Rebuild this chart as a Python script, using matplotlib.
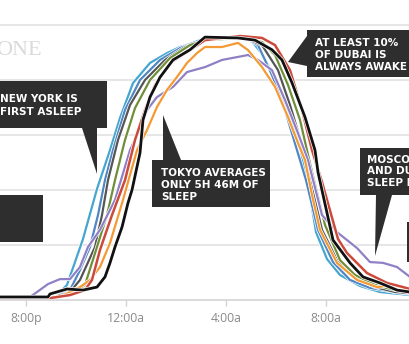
import matplotlib
matplotlib.use("Agg")
import matplotlib.pyplot as plt
import matplotlib.patches as mpatches
import matplotlib.patheffects as pe
from matplotlib.transforms import Affine2D

# hours after 8:00pm, share of people asleep (%)
hours_teal = [-1.04, 1.16, 1.44, 1.64, 1.96, 2.28, 2.84, 3.36, 3.76, 4.28, 4.96, 5.64, 6.16, 6.84, 7.76, 8.96,
              9.48, 10.04, 10.44, 10.84, 11.08, 11.36, 11.6, 12.04, 12.56, 13.36, 14.16, 15.36]
pct_teal = [1.1, 1.1, 3.6, 5.5, 13.8, 22.2, 40.4, 54.5, 66.2, 78.9, 86.2, 89.8, 92, 93.8, 95.6, 94.9,
            89.1, 78.9, 69.1, 59.3, 50.9, 38.2, 24.7, 14.9, 9.1, 5.1, 2.9, 1.8]

hours_blue = [-1.04, 1.16, 1.76, 2.16, 2.56, 2.88, 3.16, 3.48, 3.96, 4.56, 5.36, 6.16, 6.96, 8.76, 9.28,
              9.84, 10.36, 10.84, 11.2, 11.68, 12.28, 12.96, 13.76, 14.76, 15.36]
pct_blue = [1.1, 1.1, 3.6, 10.9, 19.3, 30.9, 43.6, 54.5, 69.1, 80, 87.3, 91.6, 94.5, 95.3, 92.7,
            81.8, 69.1, 54.5, 43.6, 25.5, 13.8, 7.3, 4.4, 2.9, 2.2]

hours_gray = [-1.04, 1.16, 1.76, 2.16, 2.76, 3.04, 3.28, 3.68, 4.16, 4.76, 5.56, 6.36, 7.16, 8.76, 9.44,
              10.08, 10.56, 11.04, 11.36, 11.84, 12.48, 13.16, 13.96, 14.76, 15.36]
pct_gray = [1.1, 1.1, 2.9, 7.3, 19.3, 30.9, 43.6, 58.2, 70.9, 80, 87.3, 92, 94.5, 95.3, 92.7,
            83.6, 70.9, 56.4, 43.6, 25.5, 13.8, 8, 4.7, 2.9, 2.5]

hours_green = [-1.04, 1.36, 1.96, 2.36, 2.84, 3.24, 3.56, 3.96, 4.36, 4.96, 5.76, 6.56, 7.16, 8.56, 9.44,
               9.96, 10.48, 10.96, 11.44, 11.96, 12.56, 13.16, 13.96, 14.76, 15.36]
pct_green = [1.1, 1.1, 2.9, 5.5, 19.3, 30.9, 43.6, 58.2, 69.8, 80, 88, 92.7, 94.5, 95.3, 93.8,
             89.1, 78.2, 65.5, 46.5, 27.3, 14.5, 9.1, 5.5, 3.6, 2.9]

hours_purple = [-1.04, 0.16, 0.44, 0.88, 1.36, 1.76, 2.16, 2.48, 2.96, 3.56, 4.16, 4.48, 4.84, 5.24, 5.88,
                6.44, 7.16, 7.84, 8.48, 8.88, 9.28, 9.84, 10.36, 10.88, 11.28, 11.84, 12.44, 13.24,
                13.76, 14.28, 14.84, 15.36]
pct_purple = [1.1, 1.1, 2.9, 5.8, 7.6, 7.6, 12, 19.3, 25.5, 36.4, 54.5, 60.7, 69.1, 73.8, 77.5,
              82.9, 84.7, 87.3, 88.4, 89.1, 87.3, 83.6, 72.7, 60.7, 50.9, 30.9, 24.7, 18.9,
              13.8, 13.5, 12, 8.4]

hours_orange = [-1.04, 1.36, 1.76, 2.16, 2.56, 2.96, 3.36, 3.88, 4.44, 4.84, 5.24, 5.64, 6.04, 6.44, 6.84,
                7.16, 7.84, 8.48, 8.88, 9.44, 9.96, 10.48, 10.88, 11.16, 11.44, 11.76, 12.44, 13.24,
                14.04, 14.76, 15.36]
pct_orange = [1.1, 1.1, 2.9, 4.7, 7.3, 12, 20.7, 36.4, 54.5, 61.8, 70.2, 76.4, 81.1, 86.2, 89.8,
              92, 92, 93.5, 90.9, 84.7, 77.5, 66.5, 57.1, 50.9, 38.2, 25.5, 13.5, 7.3,
              4.7, 5.5, 3.6]

hours_red = [-1.04, 0.96, 1.76, 2.36, 2.64, 2.96, 3.44, 3.96, 4.36, 4.76, 5.16, 5.76, 6.56, 7.16, 8.56,
             9.44, 9.96, 10.56, 11.04, 11.44, 11.84, 12.48, 12.84, 13.64, 14.44, 15.08, 15.36]
pct_red = [0.7, 0.7, 1.8, 3.6, 7.3, 18.2, 30.9, 43.6, 58.2, 69.1, 78.2, 86.2, 90.9, 94.5, 96,
           95.3, 92.7, 83.6, 69.1, 54.5, 42.9, 22.2, 17.1, 9.8, 6.2, 4.7, 4]

hours_black = [-1.04, 0.88, 0.96, 1.64, 2.28, 2.84, 3.16, 3.36, 3.56, 3.84, 4.08, 4.24, 4.56, 4.68, 4.96,
               5.36, 5.88, 6.56, 7.16, 8.48, 9.16, 9.84, 10.24, 10.64, 11.16, 11.56, 11.68, 12.28,
               12.96, 13.48, 14.16, 14.84, 15.36]
pct_black = [1.1, 1.1, 2.2, 4, 3.6, 4.7, 8.4, 13.5, 19.3, 26.5, 35.3, 40, 53.5, 65.5, 73.8,
             81, 87.3, 91, 95.6, 95.3, 94.5, 91, 87.3, 79, 66.5, 54.5, 46.5, 21.8,
             13.5, 8.4, 6.2, 3.6, 2.9]

tick_hours = [0, 4, 8, 12]
tick_labels = ["8:00p", "12:00a", "4:00a", "8:00a"]

series = [
    (hours_teal, pct_teal, "#45a6cf", 1.6),
    (hours_blue, pct_blue, "#4f86c4", 1.6),
    (hours_gray, pct_gray, "#555555", 1.6),
    (hours_green, pct_green, "#6f8e3a", 1.6),
    (hours_purple, pct_purple, "#8f80c6", 1.6),
    (hours_orange, pct_orange, "#f39a34", 1.6),
    (hours_red, pct_red, "#cc4a3b", 1.8),
    (hours_black, pct_black, "#111111", 2.0),
]

fig = plt.figure(figsize=(4.1, 3.44), dpi=100)
ax = fig.add_axes([0, 0, 1, 1])
ax.set_xlim(-1.04, 15.36)
ax.set_ylim(-16, 109.1)

for s in ["top", "right", "left"]:
    ax.spines[s].set_visible(False)
ax.spines["bottom"].set_position(("data", 0))
ax.spines["bottom"].set_color("#d4d4d4")
ax.spines["bottom"].set_linewidth(1.2)

ax.set_yticks([20, 40, 60, 80, 100])
ax.grid(axis="y", color="#e2e2e2", linewidth=1.2)
ax.tick_params(axis="y", length=0, labelleft=False)
ax.set_xticks(tick_hours)
ax.set_xticklabels(tick_labels, fontfamily="Open Sans")
ax.tick_params(axis="x", length=4, width=1, color="#d4d4d4", pad=4.5,
               labelsize=8.8, labelcolor="#8a8a8a")
ax.set_axisbelow(True)

for hrs, pct, col, lw in series:
    ax.plot(hrs, pct, color=col, lw=lw, solid_joinstyle="round",
            path_effects=[pe.Stroke(linewidth=lw + 1.0, foreground="white"), pe.Normal()])

# pixel coordinates for the callouts
pix = Affine2D().scale(1 / 410, -1 / 344).translate(0, 1) + fig.transFigure
box_col = "#2e2e2e"

def callout(pts):
    ax.add_patch(mpatches.Polygon(pts, closed=True, transform=pix, fc=box_col,
                                  ec="none", zorder=10, clip_on=False))

def label(x, y, lines, step=12):
    for i, t in enumerate(lines):
        fig.text(x, y + i * step, t, transform=pix, color="white", fontsize=7.5,
                 fontweight="bold", fontfamily="DejaVu Sans", va="center", ha="left", zorder=11)

# New York
callout([(-2, 81), (107, 81), (107, 128), (97, 128), (97, 174), (82, 128), (-2, 128)])
label(0, 99, ["NEW YORK IS", "FIRST ASLEEP"], step=13)
# empty box on the left
callout([(-2, 195), (43, 195), (43, 242), (-2, 242)])
# Tokyo
callout([(152, 160), (163, 160), (163, 115), (181, 160), (270, 160), (270, 207), (152, 207)])
label(161, 173, ["TOKYO AVERAGES", "ONLY 5H 46M OF", "SLEEP"])
# Dubai
callout([(307, 30), (412, 30), (412, 77), (307, 77), (307, 66), (288, 62), (307, 36)])
label(315, 43, ["AT LEAST 10%", "OF DUBAI IS", "ALWAYS AWAKE"])
# Moscow
callout([(360, 148), (412, 148), (412, 195), (392, 195), (375, 256), (376, 195), (360, 195)])
label(367, 160, ["MOSCOW", "AND DUBAI", "SLEEP IN"], step=11.5)
# sliver on the right edge
callout([(407, 222), (412, 222), (412, 262), (407, 262)])

# faint logo watermark
fig.text(42, 55, "ONE", transform=pix, color="#dadada", fontsize=16,
         fontfamily="Liberation Serif", ha="right", va="baseline")

fig.savefig("out.png", dpi=100)
